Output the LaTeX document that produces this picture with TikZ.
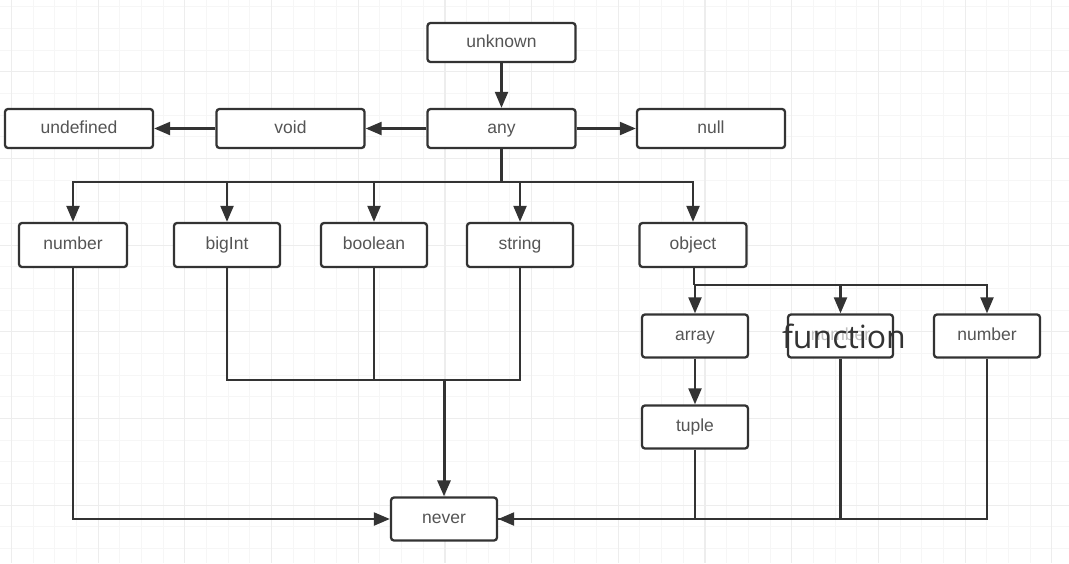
\documentclass[tikz,border=0pt]{standalone}
\usepackage{fontspec}
\usetikzlibrary{arrows.meta}
\newfontfamily\boxfont{Liberation Sans}
\newfontfamily\bigfont{Open Sans}
\definecolor{ln}{HTML}{333333}
\definecolor{tx}{HTML}{555555}
\definecolor{gminor}{HTML}{F6F6F6}
\definecolor{gmajor}{HTML}{EDEDED}
\tikzset{
  box/.style={draw=ln, line width=2.3pt, rounded corners=3pt, fill=white,
    text=tx, font=\boxfont\fontsize{17.5}{20}\selectfont, inner sep=0pt,
    text height=12.5pt, text depth=3.5pt,
    minimum width=#1, minimum height=44},
  box/.default=106,
  wbox/.style={box=148, minimum height=39},
  conn/.style={draw=ln, line width=2.2pt},
  arr/.style={conn, -{Triangle[length=16pt,width=13pt]}},
  thickconn/.style={line width=3pt}
}
\begin{document}
\begin{tikzpicture}[x=1pt,y=-1pt]
\useasboundingbox (0,0) rectangle (1069,563);
\fill[white] (0,0) rectangle (1069,563);
% grid
\foreach \i in {0,...,50} {
  \draw[gminor, line width=1pt] ({11.4+21.675*(\i-1)},0) -- ({11.4+21.675*(\i-1)},563);
}
\foreach \i in {0,...,27} {
  \draw[gminor, line width=1pt] (0,{71.7+21.675*(\i-4)}) -- (1069,{71.7+21.675*(\i-4)});
}
\foreach \i in {0,...,12} {
  \draw[gmajor, line width=1.2pt] ({11.4+86.7*\i},0) -- ({11.4+86.7*\i},563);
}
\foreach \i in {0,...,7} {
  \draw[gmajor, line width=1.2pt] (0,{71.7+86.7*(\i-1)}) -- (1069,{71.7+86.7*(\i-1)});
}
% nodes
\node[wbox] (unknown) at (501.5,42.5) {unknown};
\node[wbox] (any) at (501.5,128.5) {any};
\node[wbox] (void) at (290.5,128.5) {void};
\node[wbox] (undefined) at (79,128.5) {undefined};
\node[wbox] (null) at (711,128.5) {null};
\node[box=108] (number) at (73,245) {number};
\node[box] (bigint) at (227,245) {bigInt};
\node[box] (boolean) at (374,245) {boolean};
\node[box] (string) at (520,245) {string};
\node[box=107] (object) at (693,245) {object};
\node[box, minimum height=43] (array) at (695,336) {array};
\node[box=105, minimum height=43, text=gray!50] (func) at (840.5,336) {number};
\node[box, minimum height=43] (num2) at (987,336) {number};
\node[box, minimum height=43] (tuple) at (695,427) {tuple};
\node[box, minimum height=43] (never) at (444,519) {never};
\node[anchor=base, text=ln, font=\bigfont\fontsize{32}{36}\selectfont, inner sep=0pt] (functxt) at (844,348) {function};
% top connectors
\draw[arr] (unknown) -- (any);
\draw[arr] (any) -- (void);
\draw[arr] (void) -- (undefined);
\draw[arr] (any) -- (null);
\coordinate (bus) at (501.5,182);
\draw[conn, thickconn] (any) -- (bus);
\draw[arr] (bus) -| (number.north);
\draw[arr] (bus) -| (bigint.north);
\draw[arr] (bus) -| (boolean.north);
\draw[arr] (bus) -| (string.north);
\draw[arr] (bus) -| (object.north);
% object branch
\coordinate (obus) at (694,285);
\draw[conn] (object.south -| obus) -- (obus);
\draw[arr] (obus) -| (array.north);
\draw[arr] (obus) -| (func.north);
\draw[arr] (obus) -| (num2.north);
\draw[arr] (array) -- (tuple);
% into never
\coordinate (join) at (444,380);
\draw[conn] (bigint.south) |- (join);
\draw[conn] (string.south) |- (join);
\draw[conn] (boolean.south) -- (boolean.south |- join);
\draw[arr, thickconn] (join) -- (never);
\draw[arr] (number.south) |- (never.west);
\draw[conn] (tuple.south) |- (never.east);
\draw[conn] (func.south) |- (never.east);
\draw[arr] (num2.south) |- (never.east);
\end{tikzpicture}
\end{document}
